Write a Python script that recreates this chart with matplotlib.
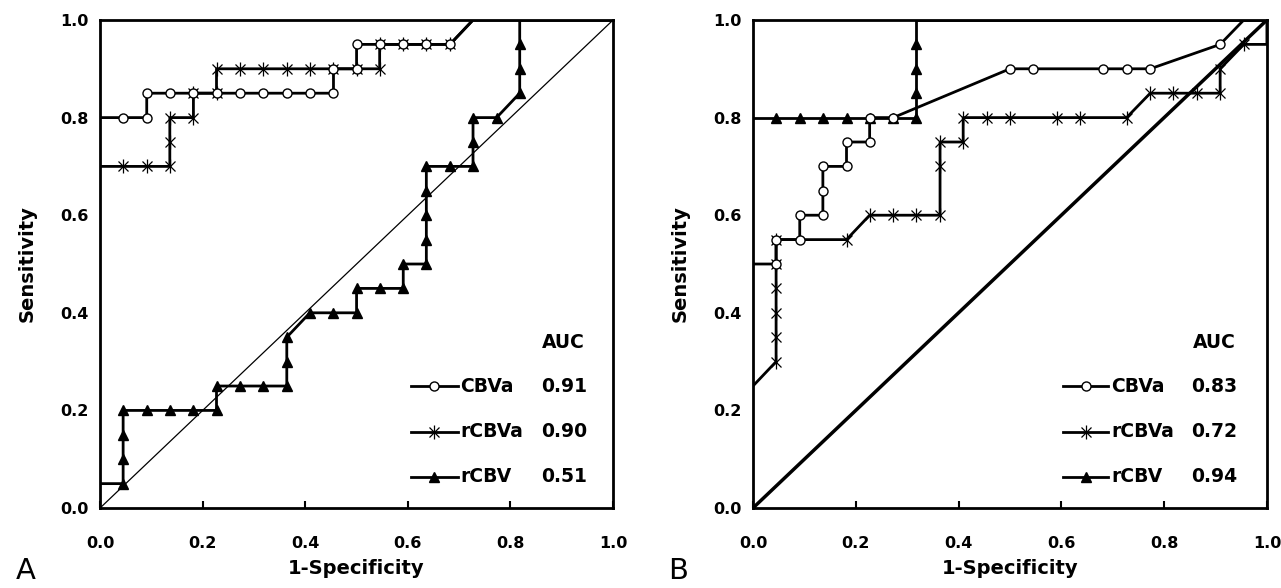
# ROC curves of CBVa, rCBVa and rCBV, two panels (A and B)
import matplotlib.pyplot as plt

# panel A  (1-specificity, sensitivity)
a_cbva_x = [0, 0.045, 0.091, 0.091, 0.136, 0.182, 0.227, 0.273, 0.318, 0.364, 0.409, 0.455,
            0.455, 0.5, 0.5, 0.545, 0.591, 0.636, 0.682, 0.727, 1.0]
a_cbva_y = [0.8, 0.8, 0.8, 0.85, 0.85, 0.85, 0.85, 0.85, 0.85, 0.85, 0.85, 0.85,
            0.9, 0.9, 0.95, 0.95, 0.95, 0.95, 0.95, 1.0, 1.0]
a_rcbva_x = [0, 0.045, 0.091, 0.136, 0.136, 0.136, 0.182, 0.182, 0.227, 0.227, 0.273, 0.318,
             0.364, 0.409, 0.455, 0.5, 0.545, 0.545, 0.591, 0.636, 0.682, 0.727, 1.0]
a_rcbva_y = [0.7, 0.7, 0.7, 0.7, 0.75, 0.8, 0.8, 0.85, 0.85, 0.9, 0.9, 0.9,
             0.9, 0.9, 0.9, 0.9, 0.9, 0.95, 0.95, 0.95, 0.95, 1.0, 1.0]
a_rcbv_x = [0, 0.045, 0.045, 0.045, 0.045, 0.091, 0.136, 0.182, 0.227, 0.227, 0.273, 0.318,
            0.364, 0.364, 0.364, 0.409, 0.455, 0.5, 0.5, 0.545, 0.591, 0.591, 0.636, 0.636,
            0.636, 0.636, 0.636, 0.682, 0.727, 0.727, 0.727, 0.773, 0.818, 0.818, 0.818, 0.818, 1.0]
a_rcbv_y = [0.05, 0.05, 0.1, 0.15, 0.2, 0.2, 0.2, 0.2, 0.2, 0.25, 0.25, 0.25,
            0.25, 0.3, 0.35, 0.4, 0.4, 0.4, 0.45, 0.45, 0.45, 0.5, 0.5, 0.55,
            0.6, 0.65, 0.7, 0.7, 0.7, 0.75, 0.8, 0.8, 0.85, 0.9, 0.95, 1.0, 1.0]
a_auc = ["0.91", "0.90", "0.51"]

# panel B
b_cbva_x = [0, 0.045, 0.045, 0.091, 0.091, 0.136, 0.136, 0.136, 0.182, 0.182, 0.227, 0.227,
            0.273, 0.5, 0.545, 0.682, 0.727, 0.773, 0.909, 0.955, 1.0]
b_cbva_y = [0.5, 0.5, 0.55, 0.55, 0.6, 0.6, 0.65, 0.7, 0.7, 0.75, 0.75, 0.8,
            0.8, 0.9, 0.9, 0.9, 0.9, 0.9, 0.95, 1.0, 1.0]
b_rcbva_x = [0, 0.045, 0.045, 0.045, 0.045, 0.045, 0.045, 0.182, 0.227, 0.273, 0.318, 0.364,
             0.364, 0.364, 0.409, 0.409, 0.455, 0.5, 0.591, 0.636, 0.727, 0.773, 0.818,
             0.864, 0.909, 0.909, 0.955, 1.0, 1.0]
b_rcbva_y = [0.25, 0.3, 0.35, 0.4, 0.45, 0.5, 0.55, 0.55, 0.6, 0.6, 0.6, 0.6,
             0.7, 0.75, 0.75, 0.8, 0.8, 0.8, 0.8, 0.8, 0.8, 0.85, 0.85,
             0.85, 0.85, 0.9, 0.95, 0.95, 1.0]
b_rcbv_x = [0, 0.045, 0.091, 0.136, 0.182, 0.227, 0.273, 0.318, 0.318, 0.318, 0.318, 0.318, 1.0]
b_rcbv_y = [0.8, 0.8, 0.8, 0.8, 0.8, 0.8, 0.8, 0.8, 0.85, 0.9, 0.95, 1.0, 1.0]
b_auc = ["0.83", "0.72", "0.94"]

names = ["CBVa", "rCBVa", "rCBV"]
ticks = [0.0, 0.2, 0.4, 0.6, 0.8, 1.0]

plt.rcParams['font.family'] = 'DejaVu Sans'
fig = plt.figure(figsize=(12.81, 5.88), dpi=100)
axA = fig.add_axes([0.0781, 0.136, 0.4005, 0.830])
axB = fig.add_axes([0.5878, 0.136, 0.4012, 0.830])

LW = 2.0
circle = dict(marker='o', ms=6.5, mfc='white', mec='black', mew=1.0)
tri = dict(marker='^', ms=7.5, mfc='black', mec='black')


def star(ax, x, y, every, transform=None):
    kw = {} if transform is None else dict(transform=transform, clip_on=False)
    ax.plot(x, y, ls='none', marker='x', ms=7.5, mec='black', mew=0.9, markevery=every, **kw)
    ax.plot(x, y, ls='none', marker='|', ms=10.5, mec='black', mew=0.9, markevery=every, **kw)


def curves(ax, cx, cy, sx, sy, tx, ty, c_end, s_end, t_end):
    ax.plot(tx, ty, color='black', lw=LW, markevery=slice(1, len(tx) - t_end), **tri)
    ax.plot(sx, sy, color='black', lw=LW)
    star(ax, sx, sy, slice(1, len(sx) - s_end))
    ax.plot(cx, cy, color='black', lw=LW, markevery=slice(1, len(cx) - c_end), **circle)


def style(ax, label):
    ax.set_xlim(0, 1)
    ax.set_ylim(0, 1)
    ax.set_xticks(ticks)
    ax.set_yticks(ticks)
    ax.set_xticklabels(["%.1f" % t for t in ticks], fontsize=11.5, fontweight='bold')
    ax.set_yticklabels(["%.1f" % t for t in ticks], fontsize=11.5, fontweight='bold')
    ax.tick_params(axis='x', direction='in', length=5, width=1.5, pad=20)
    ax.tick_params(axis='y', length=0, pad=8)
    for s in ax.spines.values():
        s.set_linewidth(2.0)
    ax.set_xlabel("1-Specificity", fontsize=14, fontweight='bold', labelpad=6)
    ax.set_ylabel("Sensitivity", fontsize=14, fontweight='bold', labelpad=17)
    ax.text(-0.165, -0.13, label, transform=ax.transAxes, fontsize=21,
            ha='left', va='center')


def legend(ax, vals, x0, x1, xt, xv):
    T = ax.transAxes
    ax.text(xv, 0.339, "AUC", transform=T, ha='center', va='center',
            fontsize=13.5, fontweight='bold')
    ys = [0.25, 0.156, 0.064]
    xm = (x0 + x1) / 2
    for i in range(3):
        y = ys[i]
        ax.plot([x0, x1], [y, y], color='black', lw=LW, transform=T, clip_on=False)
        if i == 0:
            ax.plot([xm], [y], transform=T, ls='none', **circle)
        elif i == 1:
            star(ax, [xm], [y], None, transform=T)
        else:
            ax.plot([xm], [y], transform=T, ls='none', **tri)
        ax.text(xt, y, names[i], transform=T, ha='left', va='center',
                fontsize=13.5, fontweight='bold')
        ax.text(xv, y, vals[i], transform=T, ha='center', va='center',
                fontsize=13.5, fontweight='bold')


# panel A
axA.plot([0, 1], [0, 1], color='black', lw=0.9)
curves(axA, a_cbva_x, a_cbva_y, a_rcbva_x, a_rcbva_y, a_rcbv_x, a_rcbv_y, 2, 2, 2)
style(axA, "A")
legend(axA, a_auc, 0.606, 0.697, 0.702, 0.904)

# panel B
axB.plot([0, 1], [0, 1], color='black', lw=2.5)
curves(axB, b_cbva_x, b_cbva_y, b_rcbva_x, b_rcbva_y, b_rcbv_x, b_rcbv_y, 2, 2, 2)
style(axB, "B")
legend(axB, b_auc, 0.604, 0.691, 0.697, 0.897)

fig.savefig("out.png", dpi=100)
